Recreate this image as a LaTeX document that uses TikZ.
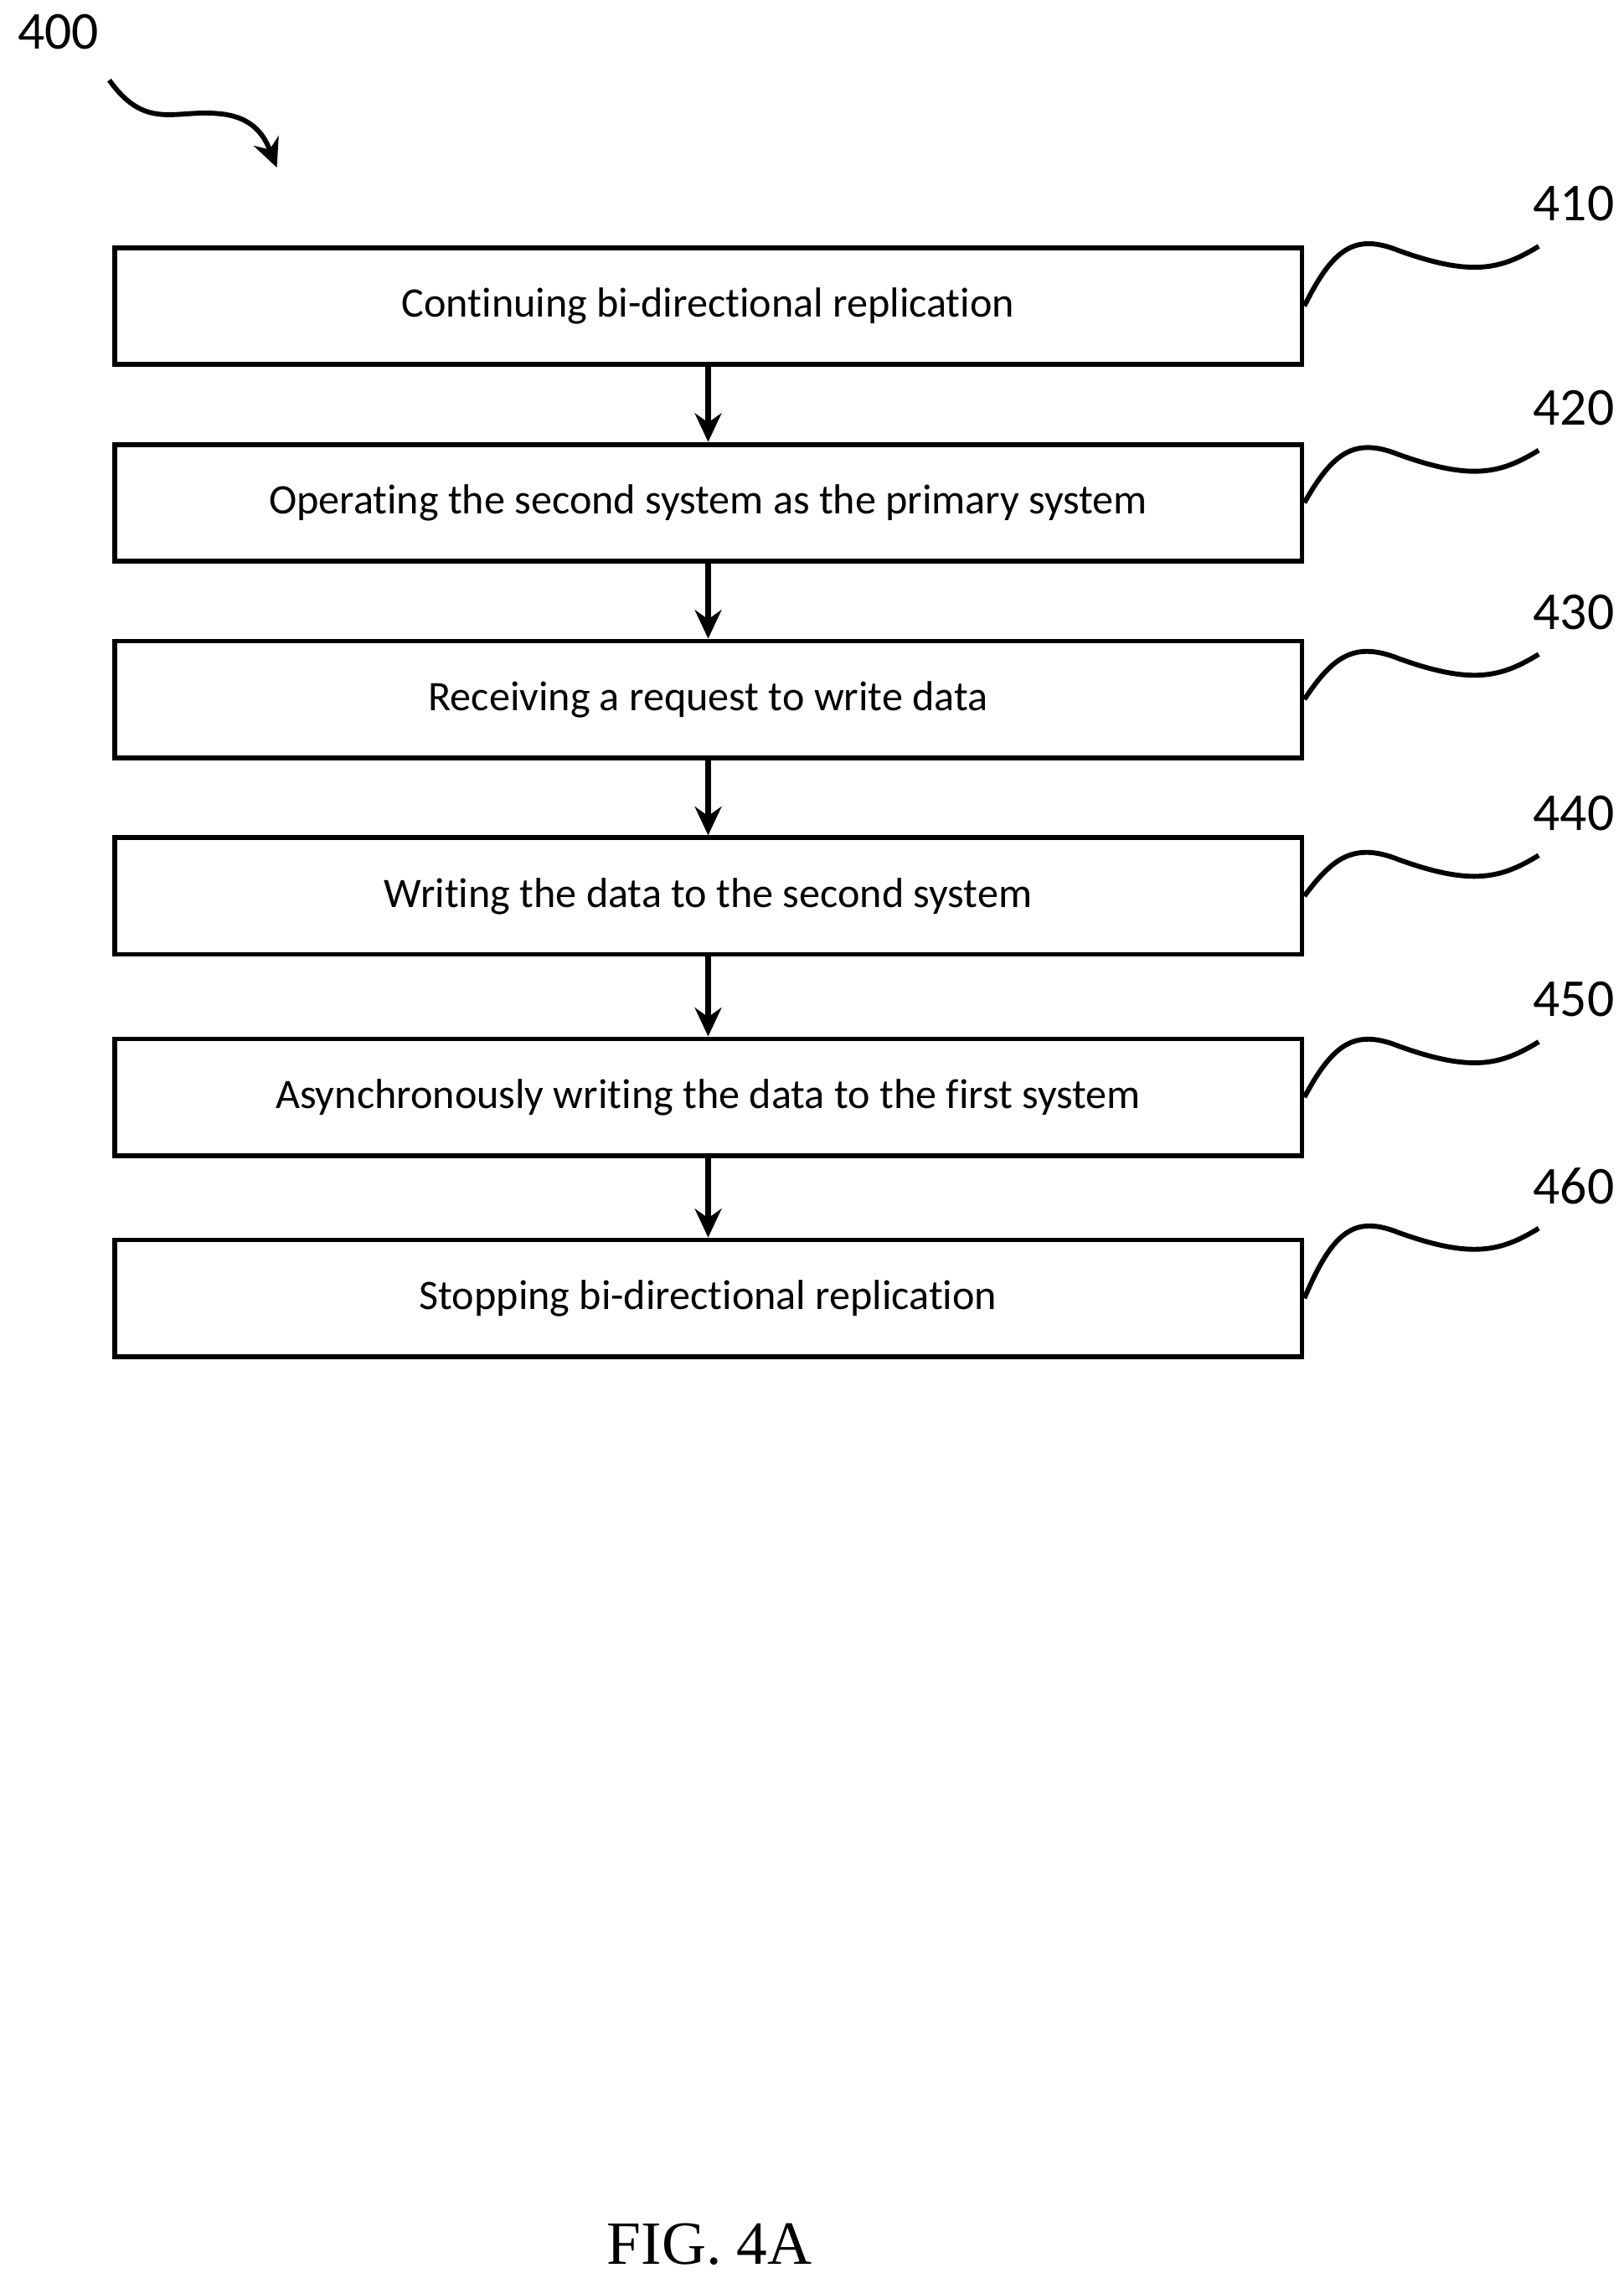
\documentclass[tikz,border=0pt]{standalone}
\usepackage{fontspec}
\setmainfont{Carlito}[Ligatures=NoCommon]
\newfontfamily\figfont{Liberation Serif}
\usetikzlibrary{positioning,arrows.meta}
\begin{document}
\begin{tikzpicture}[x=0.025cm,y=-0.025cm,
                    flowstep/.style={draw,line width=2.4pt,minimum width=815*0.025cm,minimum height=80*0.025cm,font=\fontsize{20.5}{24}\selectfont},
                    ref/.style={font=\fontsize{26}{30}\selectfont},
                    flow/.style={-{Stealth[length=14pt,width=13pt]},line width=2.8pt},
                    wave/.style={line width=2.4pt}]
\useasboundingbox (0,0) rectangle (1114,1560);
% steps
\node[flowstep] (s410) at (486,210) {Continuing bi-directional replication};
\node[flowstep] (s420) at (486,345) {Operating the second system as the primary system};
\node[flowstep] (s430) at (486,480) {Receiving a request to write data};
\node[flowstep] (s440) at (486,615) {Writing the data to the second system};
\node[flowstep] (s450) at (486,753) {Asynchronously writing the data to the first system};
\node[flowstep] (s460) at (486,891) {Stopping bi-directional replication};
% arrows
\foreach \a/\b in {s410/s420,s420/s430,s430/s440,s440/s450,s450/s460}
  \draw[flow] (\a.south) -- (\b.north);
% reference numbers
\foreach \n/\y in {410/140,420/280,430/420,440/558,450/686,460/814}{
  \node[ref] (l\n) at (1080,\y) {\n};
  \coordinate (e\n) at (1056,\y+29);
  \draw[wave] (s\n.east) .. controls (915,\y+30) and (930,\y+20) .. (960,\y+32)
                         .. controls (1010,\y+50) and (1030,\y+45) .. (e\n);
}
\node[ref] (l400) at (40,22) {400};
\coordinate (a400) at (75,55);
\coordinate (t400) at (190,115);
\draw[wave,-{Stealth[length=14pt,width=13pt]}] (a400) .. controls (100,90) and (120,75) .. (150,78)
  .. controls (175,80) and (182,95) .. (t400);
\node[font=\figfont\fontsize{30}{34}\selectfont] (fig) at (487,1540) {FIG. 4A};
\end{tikzpicture}
\end{document}
